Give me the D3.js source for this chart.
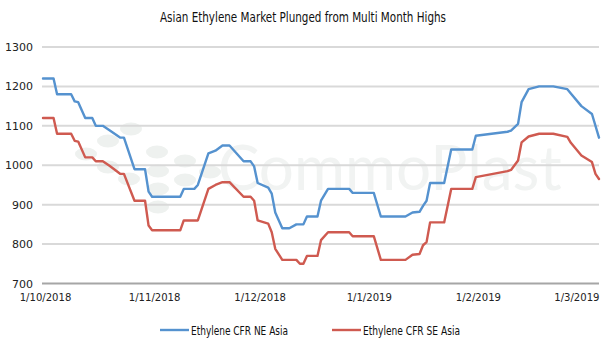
<!DOCTYPE html>
<html>
<head>
<meta charset="utf-8">
<script src="https://cdn.jsdelivr.net/npm/d3@7"></script>
<style>
  html, body { margin: 0; padding: 0; background: #ffffff; }
  svg { display: block; }
  .narrow { font-family: "DejaVu Sans Condensed", "Liberation Sans Narrow", sans-serif; }
</style>
</head>
<body>
<svg id="chart" width="606" height="350"></svg>
<script>
// Ethylene CFR prices, USD/t
const neAsia = [
  ["2018-10-01", 1220], ["2018-10-04", 1220], ["2018-10-05", 1180], ["2018-10-09", 1180],
  ["2018-10-10", 1162], ["2018-10-11", 1160], ["2018-10-13", 1120], ["2018-10-15", 1120],
  ["2018-10-16", 1100], ["2018-10-18", 1100], ["2018-10-20", 1088], ["2018-10-23", 1070],
  ["2018-10-24", 1070], ["2018-10-27", 990], ["2018-10-30", 990], ["2018-10-31", 933],
  ["2018-11-01", 920], ["2018-11-09", 920], ["2018-11-10", 940], ["2018-11-13", 940],
  ["2018-11-14", 950], ["2018-11-17", 1030], ["2018-11-19", 1037], ["2018-11-21", 1050],
  ["2018-11-23", 1050], ["2018-11-27", 1010], ["2018-11-29", 1010], ["2018-11-30", 997],
  ["2018-12-01", 955], ["2018-12-04", 943], ["2018-12-05", 928], ["2018-12-06", 880],
  ["2018-12-08", 840], ["2018-12-10", 840], ["2018-12-12", 850], ["2018-12-14", 850],
  ["2018-12-15", 870], ["2018-12-18", 870], ["2018-12-19", 910], ["2018-12-21", 940],
  ["2018-12-27", 940], ["2018-12-28", 930], ["2019-01-03", 930], ["2019-01-05", 870],
  ["2019-01-12", 870], ["2019-01-14", 880], ["2019-01-16", 882], ["2019-01-17", 897],
  ["2019-01-18", 910], ["2019-01-19", 955], ["2019-01-23", 955], ["2019-01-25", 1040],
  ["2019-01-31", 1040], ["2019-02-01", 1075], ["2019-02-10", 1085], ["2019-02-11", 1088],
  ["2019-02-13", 1105], ["2019-02-14", 1160], ["2019-02-16", 1193], ["2019-02-19", 1200],
  ["2019-02-23", 1200], ["2019-02-27", 1193], ["2019-02-28", 1182], ["2019-03-03", 1150],
  ["2019-03-06", 1130], ["2019-03-08", 1070]
];

const seAsia = [
  ["2018-10-01", 1120], ["2018-10-04", 1120], ["2018-10-05", 1080], ["2018-10-09", 1080],
  ["2018-10-10", 1062], ["2018-10-11", 1060], ["2018-10-13", 1020], ["2018-10-15", 1020],
  ["2018-10-16", 1010], ["2018-10-18", 1010], ["2018-10-20", 998], ["2018-10-23", 978],
  ["2018-10-24", 978], ["2018-10-27", 910], ["2018-10-30", 910], ["2018-10-31", 847],
  ["2018-11-01", 835], ["2018-11-09", 835], ["2018-11-10", 860], ["2018-11-14", 860],
  ["2018-11-17", 940], ["2018-11-19", 950], ["2018-11-21", 957], ["2018-11-23", 957],
  ["2018-11-27", 920], ["2018-11-29", 920], ["2018-11-30", 910], ["2018-12-01", 860],
  ["2018-12-04", 852], ["2018-12-05", 830], ["2018-12-06", 788], ["2018-12-08", 760],
  ["2018-12-12", 760], ["2018-12-13", 750], ["2018-12-14", 750], ["2018-12-15", 770],
  ["2018-12-18", 770], ["2018-12-19", 810], ["2018-12-21", 830], ["2018-12-27", 830],
  ["2018-12-28", 820], ["2019-01-03", 820], ["2019-01-05", 760], ["2019-01-12", 760],
  ["2019-01-14", 773], ["2019-01-16", 775], ["2019-01-17", 797], ["2019-01-18", 805],
  ["2019-01-19", 855], ["2019-01-23", 855], ["2019-01-25", 940], ["2019-01-31", 940],
  ["2019-02-01", 970], ["2019-02-10", 985], ["2019-02-11", 988], ["2019-02-13", 1012],
  ["2019-02-14", 1058], ["2019-02-16", 1073], ["2019-02-19", 1080], ["2019-02-23", 1080],
  ["2019-02-27", 1072], ["2019-02-28", 1057], ["2019-03-03", 1025], ["2019-03-06", 1008],
  ["2019-03-07", 978], ["2019-03-08", 965]
];

const seriesNames = ["Ethylene CFR NE Asia", "Ethylene CFR SE Asia"];
const seriesColors = ["#5592cf", "#cf5a50"];
const yTicks = [700, 800, 900, 1000, 1100, 1200, 1300];
const xTickDates = ["2018-10-01", "2018-11-01", "2018-12-01", "2019-01-01", "2019-02-01", "2019-03-01"];
const xTickLabels = ["1/10/2018", "1/11/2018", "1/12/2018", "1/1/2019", "1/2/2019", "1/3/2019"];
const titleText = "Asian Ethylene Market Plunged from Multi Month Highs";

const parse = d3.timeParse("%Y-%m-%d");
const svg = d3.select("#chart");

const plot = { left: 43, right: 599, top: 47, bottom: 283.5 };

const x = d3.scaleTime()
  .domain([parse("2018-10-01"), parse("2019-03-08")])
  .range([plot.left, plot.right]);
const y = d3.scaleLinear()
  .domain([700, 1300])
  .range([plot.bottom, plot.top]);

// Faint brand watermark behind the plot
const wm = svg.append("g").attr("class", "watermark");
const dots = [[131,129],[108,141],[86,154],[108,167],[129,179],[157,152],[158,171],[158,189],[158,207],[185,161],[185,180],[210,172]];
wm.selectAll("ellipse").data(dots).join("ellipse")
  .attr("cx", d => d[0]).attr("cy", d => d[1])
  .attr("rx", 11).attr("ry", 6.5)
  .attr("fill", "#eef1ef");
wm.append("text")
  .attr("x", 218).attr("y", 190)
  .attr("font-family", "Lato, 'Open Sans', sans-serif")
  .attr("font-size", 62)
  .attr("fill", "#f1f3f2")
  .text("CommoPlast");

// Horizontal gridlines
svg.append("g")
  .selectAll("line")
  .data(yTicks.filter(v => v !== 700))
  .join("line")
  .attr("x1", plot.left - 1).attr("x2", plot.right)
  .attr("y1", d => y(d)).attr("y2", d => y(d))
  .attr("stroke", "#d9d9d9").attr("stroke-width", 2);

// Baseline
svg.append("line")
  .attr("x1", plot.left - 1).attr("x2", plot.right)
  .attr("y1", y(700)).attr("y2", y(700))
  .attr("stroke", "#a6a6a6").attr("stroke-width", 2);

// Y axis labels
const yAxis = d3.axisLeft(y).tickValues(yTicks).tickSize(0).tickPadding(0).tickFormat(d3.format("d"));
const gy = svg.append("g").attr("transform", "translate(33,0)").call(yAxis);
gy.select(".domain").remove();
gy.selectAll("text")
  .attr("font-family", "'DejaVu Sans', sans-serif")
  .attr("font-size", 11)
  .attr("fill", "#222");

// X axis labels
const xAxis = d3.axisBottom(x)
  .tickValues(xTickDates.map(parse))
  .tickSize(0).tickPadding(0)
  .tickFormat((d, i) => xTickLabels[i]);
const gx = svg.append("g").attr("transform", "translate(2,293)").call(xAxis);
gx.select(".domain").remove();
gx.selectAll("text")
  .attr("class", "narrow")
  .attr("font-size", 11.2)
  .attr("fill", "#222");

// Series lines
const line = d3.line()
  .x(d => x(parse(d[0])))
  .y(d => y(d[1]));

[neAsia, seAsia].forEach((data, i) => {
  svg.append("path")
    .datum(data)
    .attr("d", line)
    .attr("fill", "none")
    .attr("stroke", seriesColors[i])
    .attr("stroke-width", 2.4)
    .attr("stroke-linejoin", "round")
    .attr("stroke-linecap", "round");
});

// Title
svg.append("text")
  .attr("class", "narrow")
  .attr("x", 303).attr("y", 22)
  .attr("text-anchor", "middle")
  .attr("font-size", 14)
  .attr("textLength", 286)
  .attr("lengthAdjust", "spacingAndGlyphs")
  .attr("fill", "#111")
  .text(titleText);

// Legend
const legendX = [160, 332];
const leg = svg.append("g");
seriesNames.forEach((name, i) => {
  const g = leg.append("g").attr("transform", `translate(${legendX[i]},330)`);
  g.append("line").attr("x1", 0).attr("x2", 29).attr("y1", 0).attr("y2", 0)
    .attr("stroke", seriesColors[i]).attr("stroke-width", 2.4);
  g.append("text").attr("class", "narrow")
    .attr("x", 31).attr("y", 4.5)
    .attr("font-size", 12)
    .attr("textLength", 97)
    .attr("lengthAdjust", "spacingAndGlyphs")
    .attr("fill", "#111")
    .text(name);
});
</script>
</body>
</html>
